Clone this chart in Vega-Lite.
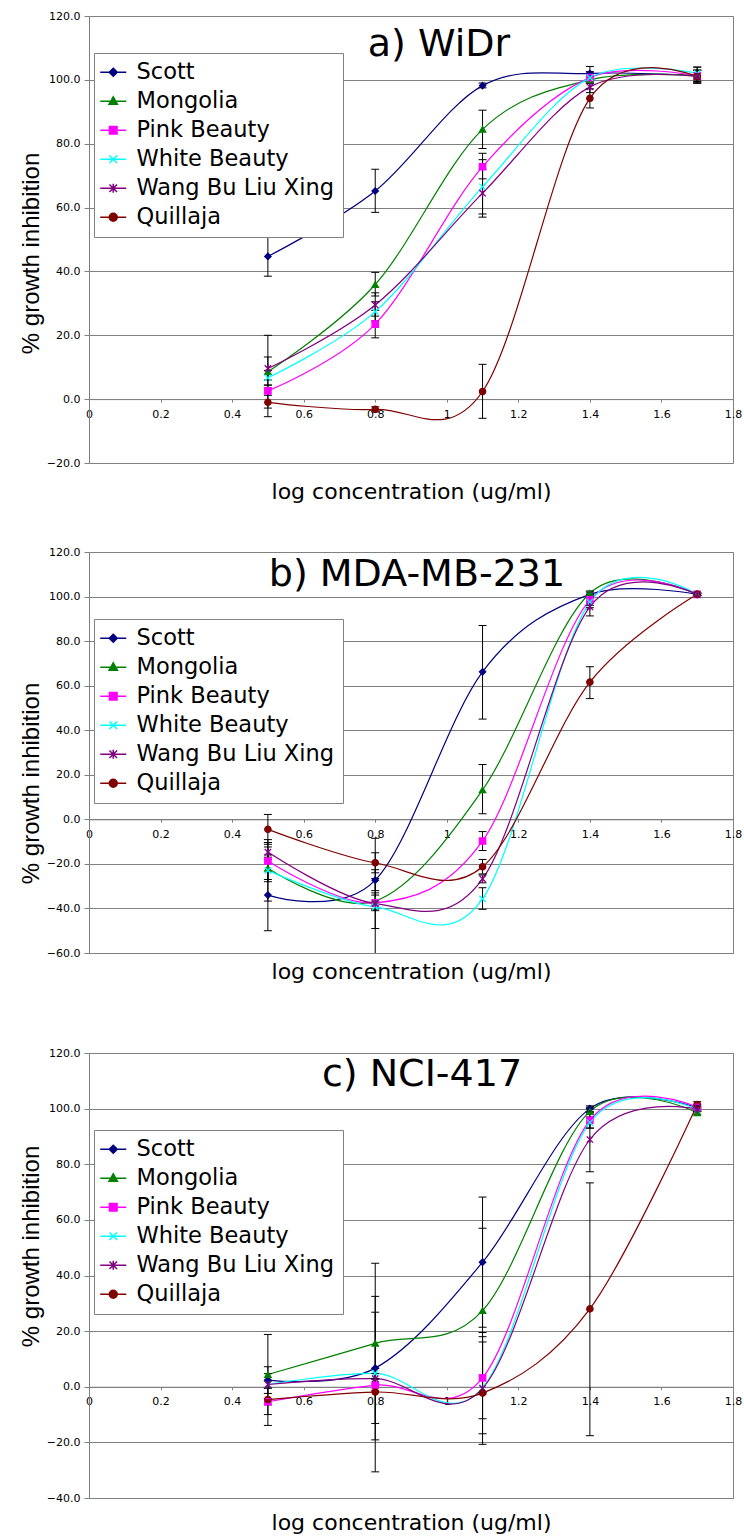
{
"$schema": "https://vega.github.io/schema/vega-lite/v6.json",
"padding": {"left": 18, "top": 9, "right": 0, "bottom": 0},
"bounds": "flush",
"spacing": 89,
"datasets": {
"a": [
{"s":"Scott","x":0.5,"y":44.7,"lo":38.5,"hi":51},
{"s":"Scott","x":0.8,"y":65.2,"lo":58.5,"hi":72},
{"s":"Scott","x":1.1,"y":98.2,"lo":97.5,"hi":99},
{"s":"Scott","x":1.4,"y":102,"lo":100,"hi":104.2},
{"s":"Scott","x":1.7,"y":101.3,"lo":99,"hi":104},
{"s":"Mongolia","x":0.5,"y":8.6,"lo":-2.8,"hi":20},
{"s":"Mongolia","x":0.8,"y":35.9,"lo":32.3,"hi":39.7},
{"s":"Mongolia","x":1.1,"y":84.5,"lo":78.5,"hi":90.5},
{"s":"Mongolia","x":1.4,"y":100,"lo":99,"hi":101},
{"s":"Mongolia","x":1.7,"y":101.3,"lo":99.5,"hi":103},
{"s":"Pink Beauty","x":0.5,"y":2.6,"lo":1.2,"hi":4.4},
{"s":"Pink Beauty","x":0.8,"y":23.5,"lo":19.2,"hi":27.8},
{"s":"Pink Beauty","x":1.1,"y":72.8,"lo":69,"hi":77},
{"s":"Pink Beauty","x":1.4,"y":100.7,"lo":99,"hi":102.5},
{"s":"Pink Beauty","x":1.7,"y":101.3,"lo":99.5,"hi":103},
{"s":"White Beauty","x":0.5,"y":6.7,"lo":4.4,"hi":9},
{"s":"White Beauty","x":0.8,"y":27.4,"lo":24.5,"hi":30.5},
{"s":"White Beauty","x":1.1,"y":66.5,"lo":58,"hi":75},
{"s":"White Beauty","x":1.4,"y":100.7,"lo":99,"hi":102.5},
{"s":"White Beauty","x":1.7,"y":102,"lo":100,"hi":104},
{"s":"Wang Bu Liu Xing","x":0.5,"y":9.6,"lo":6,"hi":13.2},
{"s":"Wang Bu Liu Xing","x":0.8,"y":29.5,"lo":26,"hi":33.3},
{"s":"Wang Bu Liu Xing","x":1.1,"y":64.5,"lo":57,"hi":72},
{"s":"Wang Bu Liu Xing","x":1.4,"y":97.8,"lo":96,"hi":99.6},
{"s":"Wang Bu Liu Xing","x":1.7,"y":101,"lo":99,"hi":103},
{"s":"Quillaja","x":0.5,"y":-1,"lo":-5.5,"hi":3.5},
{"s":"Quillaja","x":0.8,"y":-3.2,"lo":-4,"hi":-2.4},
{"s":"Quillaja","x":1.1,"y":2.4,"lo":-6,"hi":10.9},
{"s":"Quillaja","x":1.4,"y":94.2,"lo":91.2,"hi":97.2},
{"s":"Quillaja","x":1.7,"y":101,"lo":99,"hi":103}
],
"b": [
{"s":"Scott","x":0.5,"y":-34,"lo":-50,"hi":-18},
{"s":"Scott","x":0.8,"y":-27.3,"lo":-32,"hi":-22.6},
{"s":"Scott","x":1.1,"y":66.2,"lo":45,"hi":87},
{"s":"Scott","x":1.4,"y":101,"lo":100,"hi":102},
{"s":"Scott","x":1.7,"y":101,"lo":100.5,"hi":101.5},
{"s":"Mongolia","x":0.5,"y":-22,"lo":-28,"hi":-16},
{"s":"Mongolia","x":0.8,"y":-36.7,"lo":-40.5,"hi":-33},
{"s":"Mongolia","x":1.1,"y":13.2,"lo":2.5,"hi":24.6},
{"s":"Mongolia","x":1.4,"y":101.5,"lo":100.5,"hi":102.5},
{"s":"Mongolia","x":1.7,"y":101,"lo":100.5,"hi":101.5},
{"s":"Pink Beauty","x":0.5,"y":-18.7,"lo":-27,"hi":-10.4},
{"s":"Pink Beauty","x":0.8,"y":-37.5,"lo":-41,"hi":-34},
{"s":"Pink Beauty","x":1.1,"y":-9.7,"lo":-14,"hi":-5.5},
{"s":"Pink Beauty","x":1.4,"y":98.5,"lo":96,"hi":101},
{"s":"Pink Beauty","x":1.7,"y":101,"lo":100.5,"hi":101.5},
{"s":"White Beauty","x":0.5,"y":-22.9,"lo":-36.7,"hi":-9.1},
{"s":"White Beauty","x":0.8,"y":-39.3,"lo":-70,"hi":-8.5},
{"s":"White Beauty","x":1.1,"y":-35.7,"lo":-40.4,"hi":-30.7},
{"s":"White Beauty","x":1.4,"y":97.5,"lo":95,"hi":100},
{"s":"White Beauty","x":1.7,"y":101,"lo":100.5,"hi":101.5},
{"s":"Wang Bu Liu Xing","x":0.5,"y":-14.7,"lo":-17,"hi":-12.4},
{"s":"Wang Bu Liu Xing","x":0.8,"y":-37.8,"lo":-49,"hi":-26.6},
{"s":"Wang Bu Liu Xing","x":1.1,"y":-26.7,"lo":-28.5,"hi":-25},
{"s":"Wang Bu Liu Xing","x":1.4,"y":95.4,"lo":91.3,"hi":99.5},
{"s":"Wang Bu Liu Xing","x":1.7,"y":101,"lo":100.5,"hi":101.5},
{"s":"Quillaja","x":0.5,"y":-4.5,"lo":-11.2,"hi":2.2},
{"s":"Quillaja","x":0.8,"y":-19.5,"lo":-24,"hi":-15},
{"s":"Quillaja","x":1.1,"y":-21.3,"lo":-24.5,"hi":-18},
{"s":"Quillaja","x":1.4,"y":61.6,"lo":54.2,"hi":68.5},
{"s":"Quillaja","x":1.7,"y":101,"lo":100.5,"hi":101.5}
],
"c": [
{"s":"Scott","x":0.5,"y":2.4,"lo":-2.4,"hi":7.2},
{"s":"Scott","x":0.8,"y":6.7,"lo":-19.1,"hi":32.5},
{"s":"Scott","x":1.1,"y":44.8,"lo":21.4,"hi":68.2},
{"s":"Scott","x":1.4,"y":100,"lo":99,"hi":101},
{"s":"Scott","x":1.7,"y":100.3,"lo":99.5,"hi":101},
{"s":"Mongolia","x":0.5,"y":4.4,"lo":-10,"hi":18.8},
{"s":"Mongolia","x":0.8,"y":15.6,"lo":-13.2,"hi":44.4},
{"s":"Mongolia","x":1.1,"y":27.4,"lo":-2.2,"hi":57},
{"s":"Mongolia","x":1.4,"y":99,"lo":98,"hi":100},
{"s":"Mongolia","x":1.7,"y":98.5,"lo":98,"hi":99},
{"s":"Pink Beauty","x":0.5,"y":-5.4,"lo":-6.5,"hi":-4.3},
{"s":"Pink Beauty","x":0.8,"y":0.6,"lo":-1.5,"hi":2.7},
{"s":"Pink Beauty","x":1.1,"y":3.2,"lo":-11.5,"hi":18},
{"s":"Pink Beauty","x":1.4,"y":95.8,"lo":93,"hi":98.6},
{"s":"Pink Beauty","x":1.7,"y":100.5,"lo":99.5,"hi":101.5},
{"s":"White Beauty","x":0.5,"y":0.8,"lo":-0.5,"hi":2.1},
{"s":"White Beauty","x":0.8,"y":4.8,"lo":3,"hi":6.6},
{"s":"White Beauty","x":1.1,"y":-0.4,"lo":-16.9,"hi":16.1},
{"s":"White Beauty","x":1.4,"y":95,"lo":93,"hi":97},
{"s":"White Beauty","x":1.7,"y":99.8,"lo":99,"hi":100.6},
{"s":"Wang Bu Liu Xing","x":0.5,"y":0.8,"lo":-0.5,"hi":2.1},
{"s":"Wang Bu Liu Xing","x":0.8,"y":2.9,"lo":1,"hi":4.8},
{"s":"Wang Bu Liu Xing","x":1.1,"y":-0.6,"lo":-20.7,"hi":19.5},
{"s":"Wang Bu Liu Xing","x":1.4,"y":88.9,"lo":77.3,"hi":100.5},
{"s":"Wang Bu Liu Xing","x":1.7,"y":99.8,"lo":99,"hi":100.6},
{"s":"Quillaja","x":0.5,"y":-4.6,"lo":-13.9,"hi":4.7},
{"s":"Quillaja","x":0.8,"y":-1.9,"lo":-30.6,"hi":26.8},
{"s":"Quillaja","x":1.1,"y":-2.3,"lo":-2.6,"hi":-2},
{"s":"Quillaja","x":1.4,"y":28,"lo":-17.6,"hi":73.3},
{"s":"Quillaja","x":1.7,"y":101.5,"lo":100.5,"hi":102.5}
]
},
"vconcat": [
{
"width": 644, "height": 447,
"data": {"name": "a"},
"title": {"text": "a) WiDr", "offset": -54, "dx": 28},
"layer": [
{"mark": {"type": "line", "interpolate": "cardinal", "strokeWidth": 1.2},
 "encoding": {
  "x": {"field": "x", "type": "quantitative", "scale": {"domain": [0, 1.8], "nice": false, "zero": false},
        "axis": {"values": [0,0.2,0.4,0.6,0.8,1,1.2,1.4,1.6,1.8], "format": "~f", "grid": false, "offset": -63.9, "tickSize": 3, "labelPadding": 6, "title": "log concentration (ug/ml)", "titleFontSize": 22, "titleY": 99, "titleBaseline": "alphabetic"}},
  "y": {"field": "y", "type": "quantitative", "scale": {"domain": [-20, 120], "nice": false, "zero": false},
        "axis": {"values": [-20,0,20,40,60,80,100,120], "format": ".1f", "grid": true, "tickSize": 5, "labelPadding": 4, "title": "% growth inhibition", "titleFont": "Liberation Sans", "titleFontSize": 24, "titleX": -58, "titleY": 237, "titleAngle": -90, "titleBaseline": "middle", "titleAlign": "center"}},
  "color": {"field": "s", "type": "nominal", "scale": {"domain": ["Scott","Mongolia","Pink Beauty","White Beauty","Wang Bu Liu Xing","Quillaja"], "range": ["#000080","#008000","#FF00FF","#00FFFF","#800080","#800000"]}, "legend": null}
 }},
{"mark": {"type": "rule", "color": "black", "strokeWidth": 1},
 "encoding": {"x": {"field": "x", "type": "quantitative"}, "y": {"field": "lo", "type": "quantitative"}, "y2": {"field": "hi"}}},
{"mark": {"type": "point", "shape": "M-1,0H1", "size": 64, "filled": false, "stroke": "black", "strokeWidth": 1, "opacity": 1},
 "encoding": {"x": {"field": "x", "type": "quantitative"}, "y": {"field": "lo", "type": "quantitative"}}},
{"mark": {"type": "point", "shape": "M-1,0H1", "size": 64, "filled": false, "stroke": "black", "strokeWidth": 1, "opacity": 1},
 "encoding": {"x": {"field": "x", "type": "quantitative"}, "y": {"field": "hi", "type": "quantitative"}}},
{"mark": {"type": "point", "filled": true, "size": 40, "opacity": 1},
 "encoding": {"x": {"field": "x", "type": "quantitative"}, "y": {"field": "y", "type": "quantitative"},
  "color": {"field": "s", "type": "nominal", "legend": null},
  "shape": {"field": "s", "type": "nominal", "scale": {"domain": ["Scott","Mongolia","Pink Beauty","White Beauty","Wang Bu Liu Xing","Quillaja"], "range": ["diamond","triangle-up","square","M-1,-1L1,1M-1,1L1,-1","M-1,-1L1,1M-1,1L1,-1M0,-1.2V1.2","circle"]}, "legend": null}}},
{"mark": {"type": "point", "filled": false, "size": 40, "opacity": 1, "strokeWidth": 1.3},
 "encoding": {"x": {"field": "x", "type": "quantitative"}, "y": {"field": "y", "type": "quantitative"},
  "color": {"field": "s", "type": "nominal", "legend": null},
  "shape": {"field": "s", "type": "nominal", "scale": {"domain": ["Scott","Mongolia","Pink Beauty","White Beauty","Wang Bu Liu Xing","Quillaja"], "range": ["diamond","triangle-up","square","M-1,-1L1,1M-1,1L1,-1","M-1,-1L1,1M-1,1L1,-1M0,-1.2V1.2","circle"]}, "legend": null}}},
{"mark": {"type": "point", "filled": true, "size": 40, "opacity": 0},
 "encoding": {"x": {"field": "x", "type": "quantitative"}, "y": {"field": "y", "type": "quantitative"},
  "fill": {"field": "s", "type": "nominal", "scale": {"domain": ["Scott","Mongolia","Pink Beauty","White Beauty","Wang Bu Liu Xing","Quillaja"], "range": ["#000080","#008000","#FF00FF","#00FFFF","#800080","#800000"]},
     "legend": {"title": null, "orient": "none", "legendX": 5, "legendY": 37, "direction": "vertical", "labelFontSize": 22.5, "labelFont": "DejaVu Sans", "labelColor": "black", "labelLimit": 500, "symbolSize": 400, "symbolStrokeWidth": 1.5, "symbolFillColor": "#ffffff", "symbolStrokeColor": "#000000", "labelOffset": 12, "rowPadding": 6, "padding": 8, "strokeColor": "#808080", "fillColor": "white"}},
  "stroke": {"field": "s", "type": "nominal", "scale": {"domain": ["Scott","Mongolia","Pink Beauty","White Beauty","Wang Bu Liu Xing","Quillaja"], "range": ["#000080","#008000","#FF00FF","#00FFFF","#800080","#800000"]},
     "legend": {"title": null, "orient": "none", "legendX": 5, "legendY": 37, "direction": "vertical", "labelFontSize": 22.5, "labelFont": "DejaVu Sans", "labelColor": "black", "labelLimit": 500, "symbolSize": 400, "symbolStrokeWidth": 1.5, "symbolFillColor": "#ffffff", "symbolStrokeColor": "#000000", "labelOffset": 12, "rowPadding": 6, "padding": 8, "strokeColor": "#808080", "fillColor": "white"}},
  "shape": {"field": "s", "type": "nominal", "scale": {"domain": ["Scott","Mongolia","Pink Beauty","White Beauty","Wang Bu Liu Xing","Quillaja"], "range": ["M-1.3,0H1.3M0,-0.4L0.4,0L0,0.4L-0.4,0Z","M-1.3,0H1.3M0,-0.45L0.42,0.3L-0.42,0.3Z","M-1.3,0H1.3M-0.38,-0.38H0.38V0.38H-0.38Z","M-1.3,0H1.3M-0.38,-0.38L0.38,0.38M-0.38,0.38L0.38,-0.38","M-1.3,0H1.3M-0.38,-0.38L0.38,0.38M-0.38,0.38L0.38,-0.38M0,-0.45V0.45","M-1.3,0H1.3M-0.4,0A0.4,0.4 0 1,0 0.4,0A0.4,0.4 0 1,0 -0.4,0Z"]},
     "legend": {"title": null, "orient": "none", "legendX": 5, "legendY": 37, "direction": "vertical", "labelFontSize": 22.5, "labelFont": "DejaVu Sans", "labelColor": "black", "labelLimit": 500, "symbolSize": 400, "symbolStrokeWidth": 1.5, "symbolFillColor": "#ffffff", "symbolStrokeColor": "#000000", "labelOffset": 12, "rowPadding": 6, "padding": 8, "strokeColor": "#808080", "fillColor": "white"}}
 }}
],
"resolve": {"scale": {"shape": "independent", "fill": "independent", "stroke": "independent"}}
},
{
"vconcat": [
{
"width": 644, "height": 401,
"data": {"name": "b"},
"title": {"text": "b) MDA-MB-231", "offset": -48, "dx": 6},
"layer": [
{"mark": {"type": "line", "interpolate": "cardinal", "strokeWidth": 1.2},
 "encoding": {
  "x": {"field": "x", "type": "quantitative", "scale": {"domain": [0, 1.8], "nice": false, "zero": false},
        "axis": {"values": [0,0.2,0.4,0.6,0.8,1,1.2,1.4,1.6,1.8], "format": "~f", "grid": false, "offset": -133.7, "tickSize": 3, "labelPadding": 6, "title": "log concentration (ug/ml)", "titleFontSize": 22, "titleY": 159, "titleBaseline": "alphabetic"}},
  "y": {"field": "y", "type": "quantitative", "scale": {"domain": [-60, 120], "nice": false, "zero": false},
        "axis": {"values": [-60,-40,-20,0,20,40,60,80,100,120], "format": ".1f", "grid": true, "tickSize": 5, "labelPadding": 4, "title": "% growth inhibition", "titleFont": "Liberation Sans", "titleFontSize": 24, "titleX": -58, "titleY": 231, "titleAngle": -90, "titleBaseline": "middle", "titleAlign": "center"}},
  "color": {"field": "s", "type": "nominal", "scale": {"domain": ["Scott","Mongolia","Pink Beauty","White Beauty","Wang Bu Liu Xing","Quillaja"], "range": ["#000080","#008000","#FF00FF","#00FFFF","#800080","#800000"]}, "legend": null}
 }},
{"mark": {"type": "rule", "color": "black", "strokeWidth": 1, "clip": true},
 "encoding": {"x": {"field": "x", "type": "quantitative"}, "y": {"field": "lo", "type": "quantitative"}, "y2": {"field": "hi"}}},
{"mark": {"type": "point", "shape": "M-1,0H1", "size": 64, "filled": false, "stroke": "black", "strokeWidth": 1, "opacity": 1, "clip": true},
 "encoding": {"x": {"field": "x", "type": "quantitative"}, "y": {"field": "lo", "type": "quantitative"}}},
{"mark": {"type": "point", "shape": "M-1,0H1", "size": 64, "filled": false, "stroke": "black", "strokeWidth": 1, "opacity": 1},
 "encoding": {"x": {"field": "x", "type": "quantitative"}, "y": {"field": "hi", "type": "quantitative"}}},
{"mark": {"type": "point", "filled": true, "size": 40, "opacity": 1},
 "encoding": {"x": {"field": "x", "type": "quantitative"}, "y": {"field": "y", "type": "quantitative"},
  "color": {"field": "s", "type": "nominal", "legend": null},
  "shape": {"field": "s", "type": "nominal", "scale": {"domain": ["Scott","Mongolia","Pink Beauty","White Beauty","Wang Bu Liu Xing","Quillaja"], "range": ["diamond","triangle-up","square","M-1,-1L1,1M-1,1L1,-1","M-1,-1L1,1M-1,1L1,-1M0,-1.2V1.2","circle"]}, "legend": null}}},
{"mark": {"type": "point", "filled": false, "size": 40, "opacity": 1, "strokeWidth": 1.3},
 "encoding": {"x": {"field": "x", "type": "quantitative"}, "y": {"field": "y", "type": "quantitative"},
  "color": {"field": "s", "type": "nominal", "legend": null},
  "shape": {"field": "s", "type": "nominal", "scale": {"domain": ["Scott","Mongolia","Pink Beauty","White Beauty","Wang Bu Liu Xing","Quillaja"], "range": ["diamond","triangle-up","square","M-1,-1L1,1M-1,1L1,-1","M-1,-1L1,1M-1,1L1,-1M0,-1.2V1.2","circle"]}, "legend": null}}},
{"mark": {"type": "point", "filled": true, "size": 40, "opacity": 0},
 "encoding": {"x": {"field": "x", "type": "quantitative"}, "y": {"field": "y", "type": "quantitative"},
  "fill": {"field": "s", "type": "nominal", "scale": {"domain": ["Scott","Mongolia","Pink Beauty","White Beauty","Wang Bu Liu Xing","Quillaja"], "range": ["#000080","#008000","#FF00FF","#00FFFF","#800080","#800000"]},
     "legend": {"title": null, "orient": "none", "legendX": 5, "legendY": 67, "direction": "vertical", "labelFontSize": 22.5, "labelFont": "DejaVu Sans", "labelColor": "black", "labelLimit": 500, "symbolSize": 400, "symbolStrokeWidth": 1.5, "symbolFillColor": "#ffffff", "symbolStrokeColor": "#000000", "labelOffset": 12, "rowPadding": 6, "padding": 8, "strokeColor": "#808080", "fillColor": "white"}},
  "stroke": {"field": "s", "type": "nominal", "scale": {"domain": ["Scott","Mongolia","Pink Beauty","White Beauty","Wang Bu Liu Xing","Quillaja"], "range": ["#000080","#008000","#FF00FF","#00FFFF","#800080","#800000"]},
     "legend": {"title": null, "orient": "none", "legendX": 5, "legendY": 67, "direction": "vertical", "labelFontSize": 22.5, "labelFont": "DejaVu Sans", "labelColor": "black", "labelLimit": 500, "symbolSize": 400, "symbolStrokeWidth": 1.5, "symbolFillColor": "#ffffff", "symbolStrokeColor": "#000000", "labelOffset": 12, "rowPadding": 6, "padding": 8, "strokeColor": "#808080", "fillColor": "white"}},
  "shape": {"field": "s", "type": "nominal", "scale": {"domain": ["Scott","Mongolia","Pink Beauty","White Beauty","Wang Bu Liu Xing","Quillaja"], "range": ["M-1.3,0H1.3M0,-0.4L0.4,0L0,0.4L-0.4,0Z","M-1.3,0H1.3M0,-0.45L0.42,0.3L-0.42,0.3Z","M-1.3,0H1.3M-0.38,-0.38H0.38V0.38H-0.38Z","M-1.3,0H1.3M-0.38,-0.38L0.38,0.38M-0.38,0.38L0.38,-0.38","M-1.3,0H1.3M-0.38,-0.38L0.38,0.38M-0.38,0.38L0.38,-0.38M0,-0.45V0.45","M-1.3,0H1.3M-0.4,0A0.4,0.4 0 1,0 0.4,0A0.4,0.4 0 1,0 -0.4,0Z"]},
     "legend": {"title": null, "orient": "none", "legendX": 5, "legendY": 67, "direction": "vertical", "labelFontSize": 22.5, "labelFont": "DejaVu Sans", "labelColor": "black", "labelLimit": 500, "symbolSize": 400, "symbolStrokeWidth": 1.5, "symbolFillColor": "#ffffff", "symbolStrokeColor": "#000000", "labelOffset": 12, "rowPadding": 6, "padding": 8, "strokeColor": "#808080", "fillColor": "white"}}
 }}
],
"resolve": {"scale": {"shape": "independent", "fill": "independent", "stroke": "independent"}}
},
{
"width": 644, "height": 445,
"data": {"name": "c"},
"title": {"text": "c) NCI-417", "offset": -47, "dx": 11},
"layer": [
{"mark": {"type": "line", "interpolate": "cardinal", "strokeWidth": 1.2},
 "encoding": {
  "x": {"field": "x", "type": "quantitative", "scale": {"domain": [0, 1.8], "nice": false, "zero": false},
        "axis": {"values": [0,0.2,0.4,0.6,0.8,1,1.2,1.4,1.6,1.8], "format": "~f", "grid": false, "offset": -111.25, "tickSize": 3, "labelPadding": 6, "title": "log concentration (ug/ml)", "titleFontSize": 22, "titleY": 143, "titleBaseline": "alphabetic"}},
  "y": {"field": "y", "type": "quantitative", "scale": {"domain": [-40, 120], "nice": false, "zero": false},
        "axis": {"values": [-40,-20,0,20,40,60,80,100,120], "format": ".1f", "grid": true, "tickSize": 5, "labelPadding": 4, "title": "% growth inhibition", "titleFont": "Liberation Sans", "titleFontSize": 24, "titleX": -58, "titleY": 193, "titleAngle": -90, "titleBaseline": "middle", "titleAlign": "center"}},
  "color": {"field": "s", "type": "nominal", "scale": {"domain": ["Scott","Mongolia","Pink Beauty","White Beauty","Wang Bu Liu Xing","Quillaja"], "range": ["#000080","#008000","#FF00FF","#00FFFF","#800080","#800000"]}, "legend": null}
 }},
{"mark": {"type": "rule", "color": "black", "strokeWidth": 1},
 "encoding": {"x": {"field": "x", "type": "quantitative"}, "y": {"field": "lo", "type": "quantitative"}, "y2": {"field": "hi"}}},
{"mark": {"type": "point", "shape": "M-1,0H1", "size": 64, "filled": false, "stroke": "black", "strokeWidth": 1, "opacity": 1},
 "encoding": {"x": {"field": "x", "type": "quantitative"}, "y": {"field": "lo", "type": "quantitative"}}},
{"mark": {"type": "point", "shape": "M-1,0H1", "size": 64, "filled": false, "stroke": "black", "strokeWidth": 1, "opacity": 1},
 "encoding": {"x": {"field": "x", "type": "quantitative"}, "y": {"field": "hi", "type": "quantitative"}}},
{"mark": {"type": "point", "filled": true, "size": 40, "opacity": 1},
 "encoding": {"x": {"field": "x", "type": "quantitative"}, "y": {"field": "y", "type": "quantitative"},
  "color": {"field": "s", "type": "nominal", "legend": null},
  "shape": {"field": "s", "type": "nominal", "scale": {"domain": ["Scott","Mongolia","Pink Beauty","White Beauty","Wang Bu Liu Xing","Quillaja"], "range": ["diamond","triangle-up","square","M-1,-1L1,1M-1,1L1,-1","M-1,-1L1,1M-1,1L1,-1M0,-1.2V1.2","circle"]}, "legend": null}}},
{"mark": {"type": "point", "filled": false, "size": 40, "opacity": 1, "strokeWidth": 1.3},
 "encoding": {"x": {"field": "x", "type": "quantitative"}, "y": {"field": "y", "type": "quantitative"},
  "color": {"field": "s", "type": "nominal", "legend": null},
  "shape": {"field": "s", "type": "nominal", "scale": {"domain": ["Scott","Mongolia","Pink Beauty","White Beauty","Wang Bu Liu Xing","Quillaja"], "range": ["diamond","triangle-up","square","M-1,-1L1,1M-1,1L1,-1","M-1,-1L1,1M-1,1L1,-1M0,-1.2V1.2","circle"]}, "legend": null}}},
{"mark": {"type": "point", "filled": true, "size": 40, "opacity": 0},
 "encoding": {"x": {"field": "x", "type": "quantitative"}, "y": {"field": "y", "type": "quantitative"},
  "fill": {"field": "s", "type": "nominal", "scale": {"domain": ["Scott","Mongolia","Pink Beauty","White Beauty","Wang Bu Liu Xing","Quillaja"], "range": ["#000080","#008000","#FF00FF","#00FFFF","#800080","#800000"]},
     "legend": {"title": null, "orient": "none", "legendX": 5, "legendY": 77, "direction": "vertical", "labelFontSize": 22.5, "labelFont": "DejaVu Sans", "labelColor": "black", "labelLimit": 500, "symbolSize": 400, "symbolStrokeWidth": 1.5, "symbolFillColor": "#ffffff", "symbolStrokeColor": "#000000", "labelOffset": 12, "rowPadding": 6, "padding": 8, "strokeColor": "#808080", "fillColor": "white"}},
  "stroke": {"field": "s", "type": "nominal", "scale": {"domain": ["Scott","Mongolia","Pink Beauty","White Beauty","Wang Bu Liu Xing","Quillaja"], "range": ["#000080","#008000","#FF00FF","#00FFFF","#800080","#800000"]},
     "legend": {"title": null, "orient": "none", "legendX": 5, "legendY": 77, "direction": "vertical", "labelFontSize": 22.5, "labelFont": "DejaVu Sans", "labelColor": "black", "labelLimit": 500, "symbolSize": 400, "symbolStrokeWidth": 1.5, "symbolFillColor": "#ffffff", "symbolStrokeColor": "#000000", "labelOffset": 12, "rowPadding": 6, "padding": 8, "strokeColor": "#808080", "fillColor": "white"}},
  "shape": {"field": "s", "type": "nominal", "scale": {"domain": ["Scott","Mongolia","Pink Beauty","White Beauty","Wang Bu Liu Xing","Quillaja"], "range": ["M-1.3,0H1.3M0,-0.4L0.4,0L0,0.4L-0.4,0Z","M-1.3,0H1.3M0,-0.45L0.42,0.3L-0.42,0.3Z","M-1.3,0H1.3M-0.38,-0.38H0.38V0.38H-0.38Z","M-1.3,0H1.3M-0.38,-0.38L0.38,0.38M-0.38,0.38L0.38,-0.38","M-1.3,0H1.3M-0.38,-0.38L0.38,0.38M-0.38,0.38L0.38,-0.38M0,-0.45V0.45","M-1.3,0H1.3M-0.4,0A0.4,0.4 0 1,0 0.4,0A0.4,0.4 0 1,0 -0.4,0Z"]},
     "legend": {"title": null, "orient": "none", "legendX": 5, "legendY": 77, "direction": "vertical", "labelFontSize": 22.5, "labelFont": "DejaVu Sans", "labelColor": "black", "labelLimit": 500, "symbolSize": 400, "symbolStrokeWidth": 1.5, "symbolFillColor": "#ffffff", "symbolStrokeColor": "#000000", "labelOffset": 12, "rowPadding": 6, "padding": 8, "strokeColor": "#808080", "fillColor": "white"}}
 }}
],
"resolve": {"scale": {"shape": "independent", "fill": "independent", "stroke": "independent"}}
}
],
"spacing": 100,
"bounds": "flush"
}
],
"config": {
 "font": "DejaVu Sans",
 "view": {"stroke": "#808080", "strokeWidth": 1},
 "axis": {"labelFont": "DejaVu Sans", "labelFontSize": 11, "labelColor": "#000000", "domainColor": "#808080", "tickColor": "#808080", "gridColor": "#808080", "gridOpacity": 1, "gridWidth": 1, "titleColor": "#000000", "titleFontWeight": "normal", "titleFont": "DejaVu Sans", "labelOverlap": false, "labelFlush": false},
 "title": {"fontSize": 38, "fontWeight": "normal", "color": "#000000", "anchor": "middle", "frame": "group", "baseline": "alphabetic", "font": "DejaVu Sans"}
}
}
